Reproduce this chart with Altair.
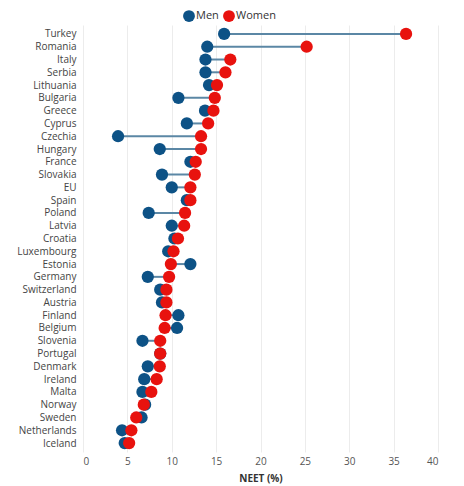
import altair as alt
import pandas as pd

countries = ["Turkey", "Romania", "Italy", "Serbia", "Lithuania", "Bulgaria", "Greece",
             "Cyprus", "Czechia", "Hungary", "France", "Slovakia", "EU", "Spain", "Poland",
             "Latvia", "Croatia", "Luxembourg", "Estonia", "Germany", "Switzerland",
             "Austria", "Finland", "Belgium", "Slovenia", "Portugal", "Denmark", "Ireland",
             "Malta", "Norway", "Sweden", "Netherlands", "Iceland"]
men = [15.9, 14.0, 13.8, 13.8, 14.2, 10.75, 13.75, 11.7, 3.95, 8.65, 12.1, 8.9, 10.0,
       11.7, 7.4, 10.0, 10.3, 9.6, 12.1, 7.3, 8.7, 8.9, 10.75, 10.6, 6.7, 8.7, 7.3, 6.9,
       6.7, 7.0, 6.6, 4.4, 4.7]
women = [36.4, 25.2, 16.6, 16.05, 15.1, 14.85, 14.7, 14.1, 13.3, 13.3, 12.7, 12.6, 12.1,
         12.1, 11.5, 11.4, 10.7, 10.2, 9.9, 9.7, 9.4, 9.4, 9.3, 9.2, 8.7, 8.7, 8.65, 8.3,
         7.7, 6.85, 6.0, 5.45, 5.2]

wide = pd.DataFrame({"Country": countries, "Men": men, "Women": women})

base = alt.Chart(wide)

y_enc = alt.Y("Country:N", sort=countries,
              scale=alt.Scale(type="point", padding=0.7),
              axis=alt.Axis(title=None, ticks=False, domain=False, grid=False,
                            labelFontSize=10, labelColor="#444", labelPadding=7,
                            labelFont="Open Sans"))

rules = base.mark_rule(color="#5b87a5", strokeWidth=2).encode(
    y=y_enc,
    x=alt.X("Men:Q"),
    x2="Women:Q",
)

points = base.transform_fold(["Men", "Women"], as_=["Sex", "NEET"]).transform_calculate(
    ord="datum.Sex == 'Men' ? 0 : 1"
).mark_circle(size=150, opacity=1).encode(
    y=y_enc,
    x=alt.X("NEET:Q", title="NEET (%)",
            scale=alt.Scale(domain=[0, 40], nice=False),
            axis=alt.Axis(values=[0, 5, 10, 15, 20, 25, 30, 35, 40], ticks=False,
                          domain=False, gridColor="#ececec", labelFontSize=10,
                          labelColor="#555", labelPadding=4, labelFont="Open Sans",
                          titleFont="Open Sans", titleFontSize=10, titleFontWeight="bold",
                          titleColor="#333", titlePadding=7)),
    color=alt.Color("Sex:N",
                    scale=alt.Scale(domain=["Men", "Women"], range=["#0d5286", "#e8120e"]),
                    legend=alt.Legend(title=None, orient="none", direction="horizontal",
                                      legendX=100, legendY=-15, symbolSize=140,
                                      symbolType="circle", labelFontSize=11,
                                      labelColor="#333", labelFont="Open Sans",
                                      labelOffset=1, columnPadding=4, symbolStrokeWidth=0)),
    order=alt.Order("ord:Q"),
)

chart = alt.layer(rules, points).properties(
    width=355, height=427,
    autosize=alt.AutoSizeParams(type="none"),
    padding={"left": 75, "top": 17, "right": 10, "bottom": 40},
).configure_view(stroke=None)

chart.save("out.html", embed_options={"renderer": "svg", "actions": False})
